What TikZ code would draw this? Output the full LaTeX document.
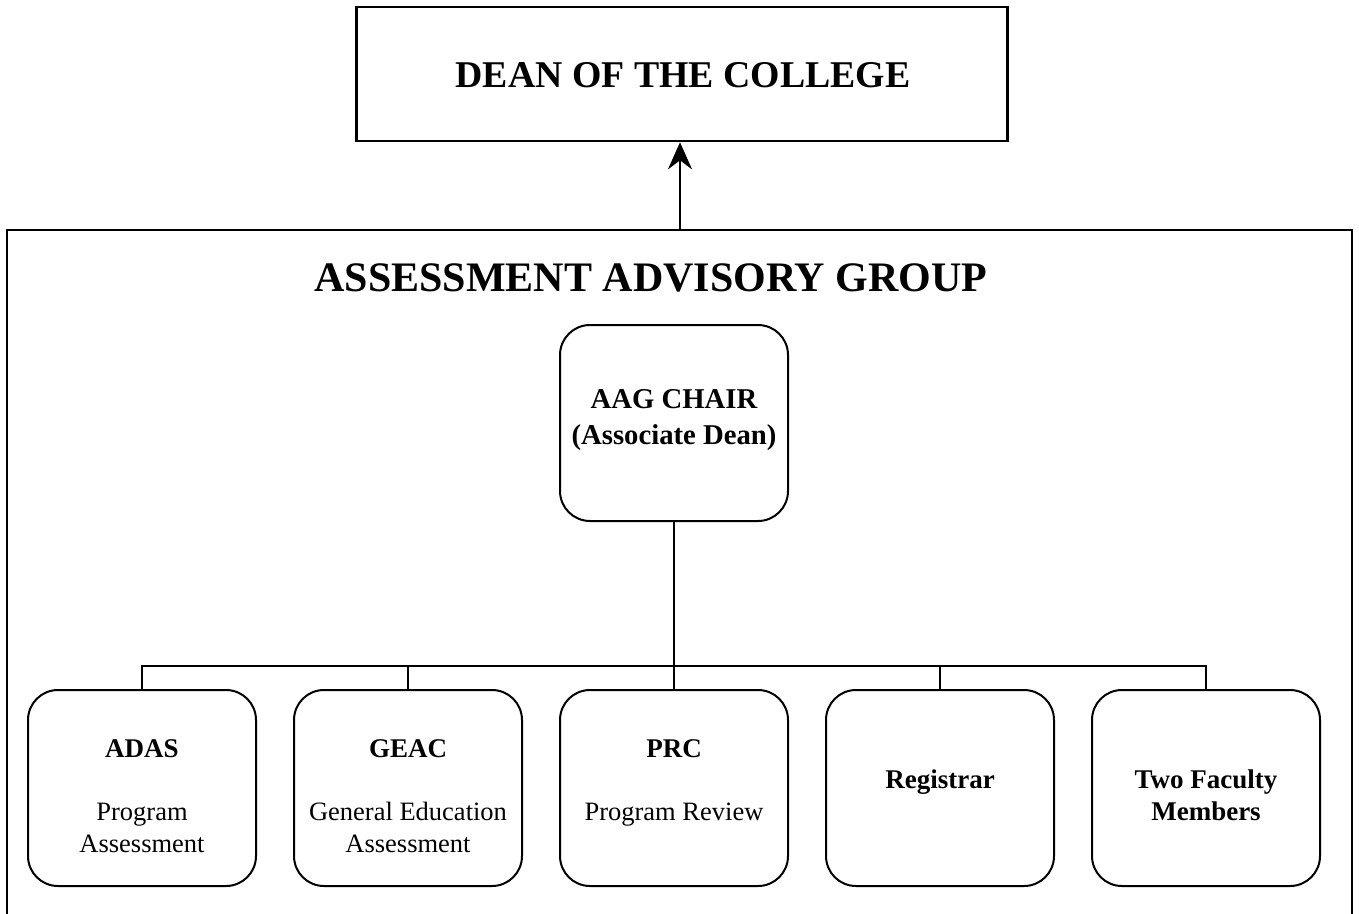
\documentclass[tikz,border=0pt]{standalone}
\usepackage{fontspec}
\setmainfont{Liberation Serif}
\usetikzlibrary{arrows.meta}
\tikzset{
  sqbox/.style={draw, line width=2.6pt, inner sep=0pt},
  rbox/.style={draw, line width=2pt, rounded corners=30pt, minimum width=228pt, minimum height=196pt, inner sep=0pt},
  link/.style={line width=2.2pt},
  head/.style={font=\fontsize{27}{30}\selectfont\bfseries, anchor=base, inner sep=0pt},
  desc/.style={font=\fontsize{26.5}{30}\selectfont, anchor=base, inner sep=0pt},
  chairtxt/.style={font=\fontsize{28.7}{30}\selectfont\bfseries, anchor=base, inner sep=0pt},
}
\begin{document}
\begin{tikzpicture}[x=1pt, y=-1pt]
\useasboundingbox (0,0) rectangle (1359,913);
% dean
\node[sqbox, minimum width=651pt, minimum height=134pt] (dean) at (682,74) {};
\node[font=\fontsize{37.8}{40}\selectfont\bfseries, anchor=base, inner sep=0pt] (deantxt) at (683,87) {DEAN OF THE COLLEGE};
% outer group frame
\coordinate (gtl) at (7,230);
\coordinate (gtr) at (1352,230);
\coordinate (gbl) at (7,930);
\coordinate (gbr) at (1352,930);
\draw[line width=2.6pt] (gbl) -- (gtl) -- (gtr) -- (gbr);
\coordinate (gtop) at (680,230);
\draw[line width=2.4pt, -{Stealth[length=27pt, width=24pt, inset=9pt]}] (gtop) -- (gtop |- dean.south);
\node[font=\fontsize{42}{46}\selectfont\bfseries, anchor=base, inner sep=0pt] (title) at (651,291) {ASSESSMENT ADVISORY GROUP};
% chair
\node[rbox] (chair) at (674,423) {};
\node[chairtxt] (chair1) at (674,408) {AAG CHAIR};
\node[chairtxt] (chair2) at (674,444) {(Associate Dean)};
% bottom boxes
\node[rbox] (adas) at (142,788) {};
\node[rbox] (geac) at (408,788) {};
\node[rbox] (prc) at (674,788) {};
\node[rbox] (reg) at (940,788) {};
\node[rbox] (fac) at (1206,788) {};
% texts
\node[head] (adas1) at (142,757) {ADAS};
\node[desc] (adas2) at (142,820) {Program};
\node[desc] (adas3) at (142,852) {Assessment};
\node[head] (geac1) at (408,757) {GEAC};
\node[desc] (geac2) at (408,820) {General Education};
\node[desc] (geac3) at (408,852) {Assessment};
\node[head] (prc1) at (674,757) {PRC};
\node[desc] (prc2) at (674,820) {Program Review};
\node[head] (reg1) at (940,788) {Registrar};
\node[head] (fac1) at (1206,788) {Two Faculty};
\node[head] (fac2) at (1206,820) {Members};
% connectors
\coordinate (bus) at (674,666);
\draw[link] (chair.south) -- (bus);
\draw[link] (adas.north) |- (bus) -| (fac.north);
\draw[link] (geac.north) -- (geac.north |- bus);
\draw[link] (prc.north) -- (bus);
\draw[link] (reg.north) -- (reg.north |- bus);
\end{tikzpicture}
\end{document}
